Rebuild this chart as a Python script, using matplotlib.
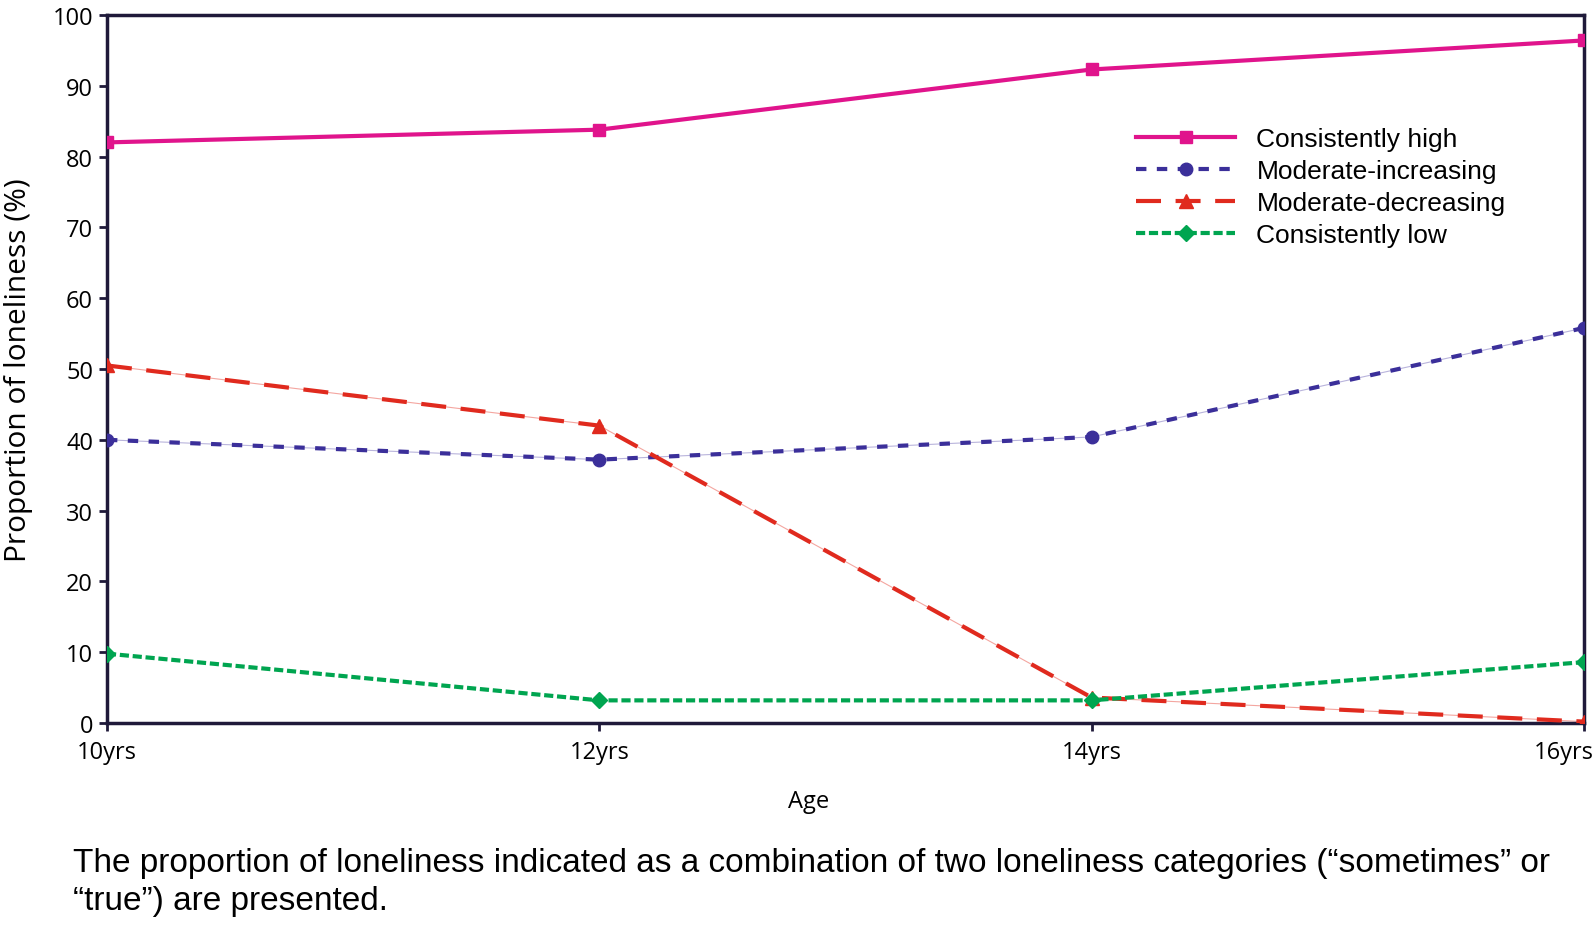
import matplotlib
matplotlib.use("Agg")
import matplotlib.pyplot as plt
import matplotlib.transforms as mtransforms

# data
ages = ["10yrs", "12yrs", "14yrs", "16yrs"]
high = [82.0, 83.8, 92.3, 96.4]
mod_inc = [40.0, 37.2, 40.4, 55.8]
mod_dec = [50.5, 42.0, 3.6, 0.2]
low = [9.8, 3.2, 3.2, 8.6]
yticks = [0, 10, 20, 30, 40, 50, 60, 70, 80, 90, 100]

caption = ("The proportion of loneliness indicated as a combination of two loneliness categories (\u201csometimes\u201d or\n"
           "\u201ctrue\u201d) are presented.")

tick_font = "Open Sans"
text_font = "Liberation Sans"

fig = plt.figure(figsize=(15.94, 9.28), dpi=100)
ax = fig.add_axes([0.0671, 0.2198, 0.9266, 0.7630])

x = list(range(len(ages)))

# thin connector lines under the dashed series
ax.plot(x, mod_dec, color="#f4a6a0", lw=0.8, zorder=2)
ax.plot(x, mod_inc, color="#b9b4dc", lw=0.8, zorder=2)

ax.plot(x, high, color="#E0148C", lw=3.0, marker="s", ms=9,
        label="Consistently high", zorder=3)
ax.plot(x, mod_inc, color="#3B2F9A", lw=3.0, dashes=(2.5, 2.5), marker="o", ms=9,
        label="Moderate-increasing", zorder=3)
ax.plot(x, mod_dec, color="#E02A1E", lw=3.0, dashes=(6, 3.5), marker="^", ms=10,
        label="Moderate-decreasing", zorder=3)
ax.plot(x, low, color="#00A550", lw=3.0, dashes=(2.2, 0.9), marker="D", ms=8,
        label="Consistently low", zorder=3)

ax.set_xlim(0, 3)
ax.set_ylim(0, 100)
ax.set_xticks(x)
ax.set_xticklabels(ages, fontfamily=tick_font, fontsize=17)
ax.set_yticks(yticks)
ax.set_yticklabels([str(v) for v in yticks], fontfamily=tick_font, fontsize=17)
ax.tick_params(axis="both", direction="out", length=6, width=2, color="#1f1a3a")
ax.tick_params(axis="x", pad=6)
ax.tick_params(axis="y", pad=4)

# last age label sits flush against the right edge, like the original
last = ax.get_xticklabels()[-1]
last.set_ha("right")
last.set_transform(last.get_transform() +
                   mtransforms.ScaledTranslation(0.10, 0, fig.dpi_scale_trans))

for sp in ax.spines.values():
    sp.set_linewidth(2.5)
    sp.set_color("#1f1a3a")

ax.set_xlabel("Age", fontfamily=tick_font, fontsize=17, labelpad=18, x=0.475)
ax.set_ylabel("Proportion of loneliness (%)", fontfamily=tick_font, fontsize=21.5, labelpad=14)

leg = ax.legend(loc="upper left", bbox_to_anchor=(0.697, 0.842), frameon=False,
                prop={"family": text_font, "size": 19}, handlelength=3.75,
                handletextpad=0.8, labelspacing=0.31, borderpad=0, borderaxespad=0)

fig.text(0.046, 0.012, caption, fontfamily=text_font, fontsize=24,
         ha="left", va="bottom", linespacing=1.3)

fig.savefig("out.png", dpi=100)
